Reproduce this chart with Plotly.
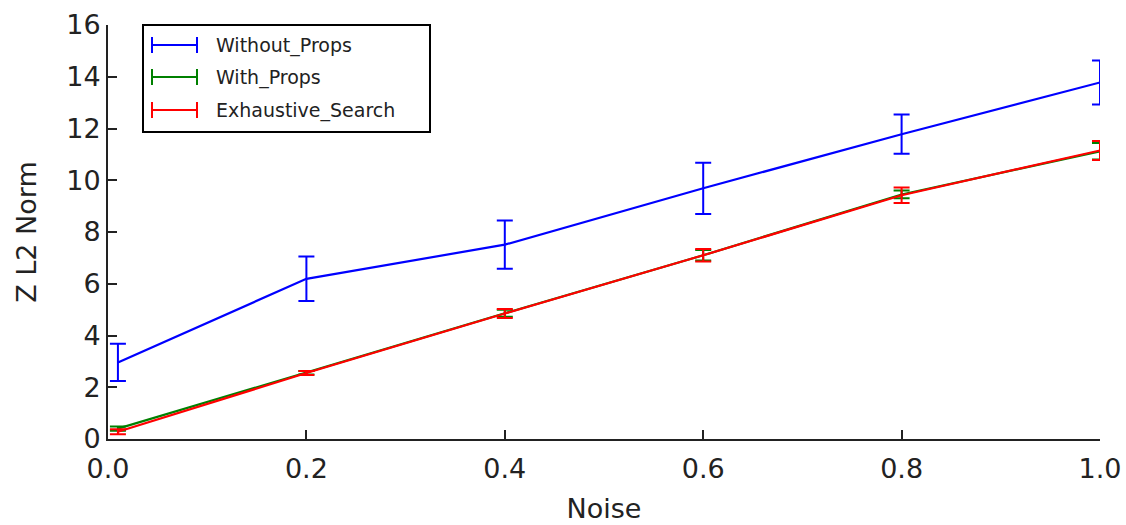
import plotly.graph_objects as go

# Noise levels on the x axis
noise = [0.01, 0.2, 0.4, 0.6, 0.8, 1.0]

# Mean Z L2 norm and its spread for each method
without_props = [2.96, 6.19, 7.51, 9.69, 11.78, 13.78]
without_props_err = [0.72, 0.86, 0.93, 0.99, 0.76, 0.85]

with_props = [0.40, 2.56, 4.86, 7.10, 9.45, 11.12]
with_props_err = [0.08, 0.07, 0.14, 0.20, 0.15, 0.32]

exhaustive = [0.28, 2.55, 4.85, 7.10, 9.42, 11.15]
exhaustive_err = [0.10, 0.08, 0.17, 0.24, 0.30, 0.37]

series_names = ["Without_Props", "With_Props", "Exhaustive_Search"]
series_colors = ["#0000ff", "#008000", "#ff0000"]
series_values = [without_props, with_props, exhaustive]
series_errors = [without_props_err, with_props_err, exhaustive_err]

FONT = "DejaVu Sans"

fig = go.Figure()
for name, color, vals, errs in zip(series_names, series_colors, series_values, series_errors):
    fig.add_trace(go.Scatter(
        x=noise, y=vals, name=name, mode="lines",
        line=dict(color=color, width=2.2),
        error_y=dict(type="data", array=errs, visible=True,
                     color=color, thickness=2, width=8),
        showlegend=False, cliponaxis=False,
    ))

# Hand-drawn legend box with error-bar style keys
L, R, B, T = 108, 1100, 439, 25  # plot area in pixels


def px(x):
    return (x - L) / (R - L)


def py(y):
    return (B - y) / (B - T)


shapes = [dict(type="rect", xref="paper", yref="paper",
               x0=px(143), x1=px(430), y0=py(132), y1=py(25),
               line=dict(color="black", width=2), fillcolor="white", layer="above")]
annotations = []
rows = [45, 77, 110]
for name, color, ry in zip(series_names, series_colors, rows):
    yc = py(ry)
    h = 8 / (B - T)
    shapes.append(dict(type="line", xref="paper", yref="paper",
                       x0=px(152), x1=px(197), y0=yc, y1=yc,
                       line=dict(color=color, width=2), layer="above"))
    for xc in (152, 197):
        shapes.append(dict(type="line", xref="paper", yref="paper",
                           x0=px(xc), x1=px(xc), y0=yc - h, y1=yc + h,
                           line=dict(color=color, width=2), layer="above"))
    annotations.append(dict(xref="paper", yref="paper", x=px(214), y=yc,
                            xanchor="left", yanchor="middle", showarrow=False,
                            text=name, font=dict(family=FONT, size=19, color="#222")))

fig.update_layout(
    width=1126, height=525,
    margin=dict(l=L, r=1126 - R, t=T, b=525 - B, autoexpand=False),
    paper_bgcolor="white", plot_bgcolor="white",
    font=dict(family=FONT, size=27, color="#222"),
    shapes=shapes, annotations=annotations,
    showlegend=False,
)
fig.update_xaxes(
    range=[0, 1], tickvals=[0, 0.2, 0.4, 0.6, 0.8, 1.0],
    ticktext=["0.0", "0.2", "0.4", "0.6", "0.8", "1.0"],
    showgrid=False, zeroline=False, showline=True, linecolor="#222", linewidth=2,
    mirror=False, ticks="inside", ticklen=9, tickwidth=1.5, tickcolor="#222",
    automargin=False, ticklabelstandoff=5,
    title=dict(text="Noise", font=dict(family=FONT, size=27), standoff=16),
)
fig.update_yaxes(
    range=[0, 16], tickvals=list(range(0, 17, 2)),
    showgrid=False, zeroline=False, showline=True, linecolor="#222", linewidth=2,
    mirror=False, ticks="inside", ticklen=9, tickwidth=1.5, tickcolor="#222",
    automargin=False,
    title=dict(text="Z L2 Norm", font=dict(family=FONT, size=27), standoff=22),
)

fig.write_html("out.html")
